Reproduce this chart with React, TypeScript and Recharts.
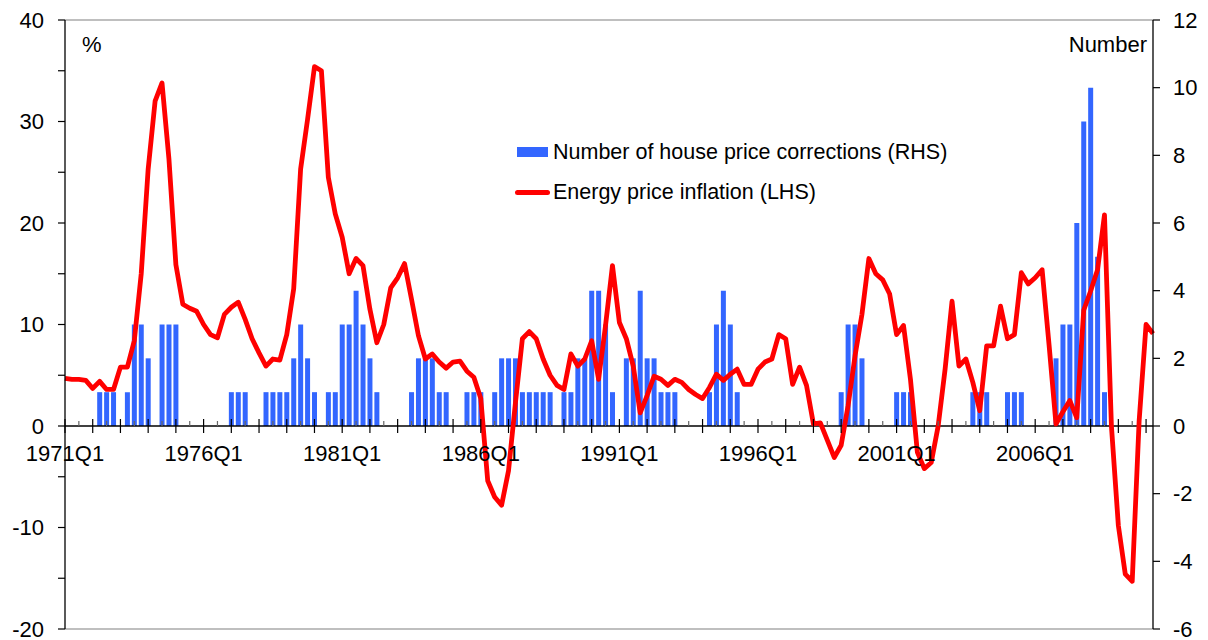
import { Bar, ComposedChart, Legend, Line, ReferenceLine, XAxis, YAxis } from 'recharts'
import type { LegendProps } from 'recharts'

const START_YEAR = 1971
const QUARTER_COUNT = 158
const QUARTERS: string[] = Array.from(
  { length: QUARTER_COUNT },
  (_, i) => `${START_YEAR + Math.floor(i / 4)}Q${(i % 4) + 1}`,
)

const LABELLED_QUARTERS = ['1971Q1', '1976Q1', '1981Q1', '1986Q1', '1991Q1', '1996Q1', '2001Q1', '2006Q1']

// energy price inflation, % y/y (left axis), one row per year
const ENERGY_INFLATION = [
  4.7, 4.6, 4.6, 4.5,
  3.7, 4.4, 3.6, 3.6,
  5.8, 5.8, 8.4, 15.0,
  25.3, 32.0, 33.8, 26.3,
  15.9, 12.0, 11.6, 11.3,
  10.0, 9.0, 8.7, 11.0,
  11.7, 12.2, 10.5, 8.6,
  7.2, 5.9, 6.6, 6.5,
  9.0, 13.5, 25.3, 30.2,
  35.4, 35.0, 24.5, 20.9,
  18.6, 15.0, 16.5, 15.8,
  11.5, 8.2, 10.0, 13.6,
  14.6, 16.0, 12.5, 8.9,
  6.6, 7.1, 6.3, 5.7,
  6.3, 6.4, 5.4, 4.8,
  2.7, -5.4, -7.0, -7.8,
  -4.4, 2.3, 8.6, 9.3,
  8.6, 6.6, 5.0, 4.0,
  3.6, 7.1, 5.9, 6.6,
  8.4, 4.6, 9.9, 15.8,
  10.2, 8.6, 5.9, 1.3,
  3.0, 4.9, 4.6, 4.0,
  4.6, 4.3, 3.6, 3.1,
  2.7, 3.8, 5.1, 4.5,
  5.1, 5.6, 4.1, 4.1,
  5.6, 6.3, 6.6, 9.0,
  8.6, 4.1, 5.8, 4.0,
  0.2, 0.3, -1.4, -3.1,
  -1.9, 2.0, 6.9, 11.0,
  16.5, 15.0, 14.4, 13.0,
  9.0, 9.9, 4.6, -2.6,
  -4.2, -3.6, 0.0, 5.6,
  12.3, 5.9, 6.6, 4.3,
  1.5, 7.9, 7.9, 11.8,
  8.6, 9.0, 15.1, 14.0,
  14.6, 15.4, 8.0, 0.2,
  1.4, 2.5, 0.8, 11.4,
  13.3, 15.4, 20.8, 0.0,
  -9.8, -14.6, -15.3, 0.5,
  10.0, 9.1,
]

// number of house price corrections (right axis), one row per year
const HOUSE_PRICE_CORRECTIONS = [
  0, 0, 0, 0,
  0, 1, 1, 1,
  0, 1, 3, 3,
  2, 0, 3, 3,
  3, 0, 0, 0,
  0, 0, 0, 0,
  1, 1, 1, 0,
  0, 1, 1, 1,
  1, 2, 3, 2,
  1, 0, 1, 1,
  3, 3, 4, 3,
  2, 1, 0, 0,
  0, 0, 1, 2,
  2, 2, 1, 1,
  0, 0, 1, 1,
  1, 0, 1, 2,
  2, 2, 1, 1,
  1, 1, 1, 0,
  1, 1, 2, 2,
  4, 4, 3, 1,
  0, 2, 2, 4,
  2, 2, 1, 1,
  1, 0, 0, 0,
  0, 1, 3, 4,
  3, 1, 0, 0,
  0, 0, 0, 0,
  0, 0, 0, 0,
  0, 0, 0, 0,
  1, 3, 3, 2,
  0, 0, 0, 0,
  1, 1, 1, 0,
  0, 0, 0, 0,
  0, 0, 0, 1,
  1, 1, 0, 0,
  1, 1, 1, 0,
  0, 0, 0, 2,
  3, 3, 6, 9,
  10, 5, 1, 0,
  0, 0, 0, 0,
  0, 0,
]

const LEFT_TICKS = [-20, -15, -10, -5, 0, 5, 10, 15, 20, 25, 30, 35, 40]
const RIGHT_TICKS = [-6, -4, -2, 0, 2, 4, 6, 8, 10, 12]

const data = QUARTERS.map((quarter, idx) => ({
  idx,
  quarter,
  energy: ENERGY_INFLATION[idx],
  corrections: HOUSE_PRICE_CORRECTIONS[idx],
}))

const X_TICKS = data.filter((d) => d.idx % 2 === 0).map((d) => d.idx)

const WIDTH = 1208
const HEIGHT = 650 // a little taller than the window so the bottom tick labels aren't clipped
const PLOT_TOP = 20
const PLOT_BOTTOM = 629
const ZERO_Y = PLOT_TOP + ((PLOT_BOTTOM - PLOT_TOP) * 40) / 60

const BAR_COLOR = '#3366ff'
const LINE_COLOR = '#ff0000'
const FONT = '"Liberation Sans", Arial, sans-serif'

const axisTick = { fontSize: 22, fill: '#000', fontFamily: FONT }

function QuarterTick({ x, payload }: { x?: number; payload?: { value: number } }) {
  if (x == null || !payload) return null
  const i = payload.value
  const major = i % 4 === 0
  const label = QUARTERS[i]
  return (
    <g>
      <line
        x1={x}
        x2={x}
        y1={ZERO_Y - (major ? 7 : 5)}
        y2={ZERO_Y + (major ? 7 : 0)}
        stroke={major ? '#000' : '#666'}
        strokeWidth={1.2}
      />
      {LABELLED_QUARTERS.includes(label) && (
        <text x={x} y={ZERO_Y + 35} textAnchor="middle" {...axisTick}>
          {label}
        </text>
      )}
    </g>
  )
}

function ChartLegend({ payload }: LegendProps) {
  if (!payload?.length) return null
  const items = [...payload].sort((a, b) => (a.type === 'rect' ? -1 : 0) - (b.type === 'rect' ? -1 : 0))
  return (
    <ul style={{ listStyle: 'none', margin: 0, padding: 0 }}>
      {items.map((entry) => (
        <li
          key={String(entry.value)}
          style={{
            display: 'flex',
            alignItems: 'center',
            height: 40,
            fontFamily: FONT,
            fontSize: 21.5,
            color: '#000',
            whiteSpace: 'nowrap',
          }}
        >
          {entry.type === 'rect' ? (
            <span style={{ display: 'inline-block', width: 31, height: 10, marginLeft: 2, marginRight: 5, background: entry.color }} />
          ) : (
            <span style={{ display: 'inline-block', width: 35, height: 5, marginRight: 3, borderRadius: 2.5, background: entry.color }} />
          )}
          {entry.value}
        </li>
      ))}
    </ul>
  )
}

export default function App() {
  return (
    <div style={{ position: 'absolute', left: 0, top: 0, width: WIDTH, height: HEIGHT, background: '#fff' }}>
      <ComposedChart
        width={WIDTH}
        height={HEIGHT}
        data={data}
        margin={{ top: PLOT_TOP, right: 0, left: 0, bottom: 0 }}
      >
        <XAxis
          dataKey="idx"
          type="number"
          domain={[0, QUARTER_COUNT - 1]}
          ticks={X_TICKS}
          interval={0}
          height={HEIGHT - PLOT_BOTTOM}
          axisLine={false}
          tickLine={false}
          tick={<QuarterTick />}
        />
        <YAxis
          yAxisId="left"
          domain={[-20, 40]}
          ticks={LEFT_TICKS}
          interval={0}
          width={65}
          tick={axisTick}
          tickFormatter={(v: number) => (v % 10 === 0 ? String(v) : '')}
          tickSize={7}
          tickMargin={14}
          axisLine={{ stroke: '#000', strokeWidth: 1.3 }}
          tickLine={{ stroke: '#000', strokeWidth: 1.2 }}
        />
        <YAxis
          yAxisId="right"
          orientation="right"
          domain={[-6, 12]}
          ticks={RIGHT_TICKS}
          interval={0}
          width={55}
          tick={axisTick}
          tickSize={7}
          tickMargin={13}
          axisLine={{ stroke: '#000', strokeWidth: 1.3 }}
          tickLine={{ stroke: '#000', strokeWidth: 1.2 }}
        />
        <ReferenceLine yAxisId="left" y={40} stroke="#808080" strokeWidth={1.2} />
        <ReferenceLine yAxisId="left" y={-20} stroke="#808080" strokeWidth={1.2} />
        <Bar
          yAxisId="right"
          dataKey="corrections"
          name="Number of house price corrections (RHS)"
          fill={BAR_COLOR}
          barSize={5}
          isAnimationActive={false}
        />
        <ReferenceLine yAxisId="left" y={0} stroke="#000" strokeWidth={1.3} />
        <Line
          yAxisId="left"
          type="linear"
          dataKey="energy"
          name="Energy price inflation (LHS)"
          stroke={LINE_COLOR}
          strokeWidth={4.8}
          strokeLinejoin="round"
          dot={false}
          activeDot={false}
          isAnimationActive={false}
        />
        <Legend
          layout="vertical"
          align="center"
          verticalAlign="middle"
          wrapperStyle={{ left: 515, top: 132, width: 460 }}
          content={<ChartLegend />}
        />
      </ComposedChart>
      <span style={{ position: 'absolute', left: 82, top: 32, fontFamily: FONT, fontSize: 22, lineHeight: '26px', color: '#000' }}>
        %
      </span>
      <span style={{ position: 'absolute', right: WIDTH - 1147, top: 32, fontFamily: FONT, fontSize: 22, lineHeight: '26px', color: '#000' }}>
        Number
      </span>
    </div>
  )
}
